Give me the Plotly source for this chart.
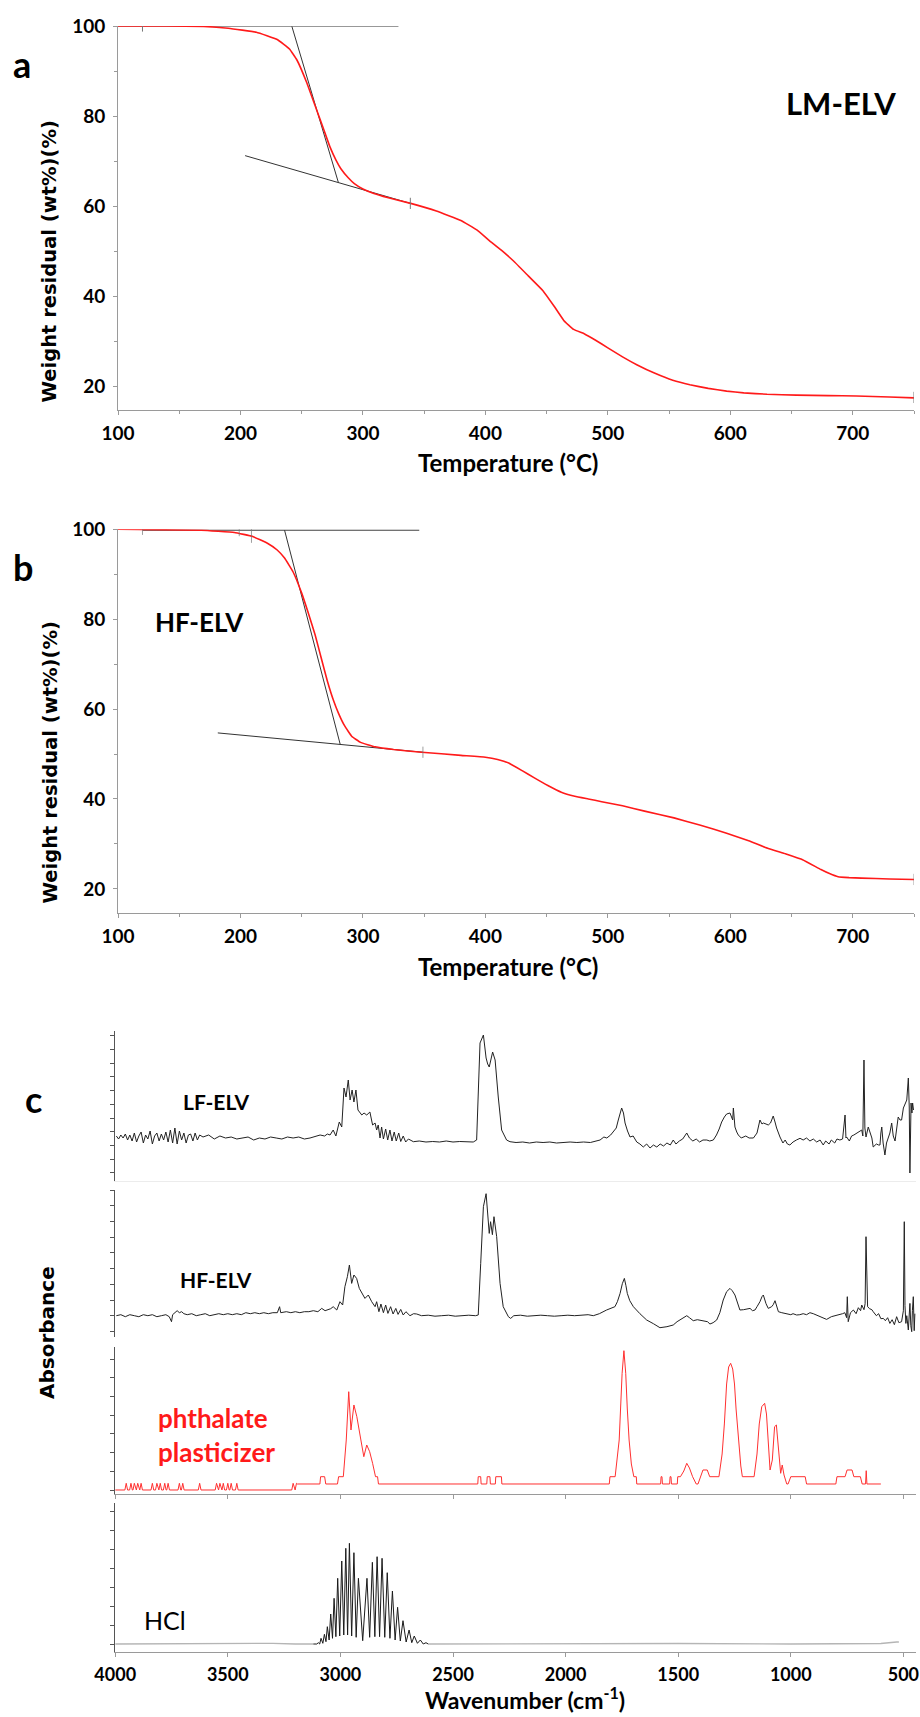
import plotly.graph_objects as go

# ---------------- DATA ----------------
# (a) TGA of LM-ELV
a_temp = [100, 140, 170, 190, 213, 230, 240, 246, 254, 262, 268, 273, 278, 282, 288, 293, 300, 309, 320,
          339, 360, 380, 393, 403, 413, 423, 435, 447, 456, 464, 472, 481, 490, 500, 512, 524, 538, 553,
          567, 582, 597, 611, 630, 654, 680, 703, 730, 750]
a_wt = [100, 100, 99.9, 99.5, 98.6, 97, 94.9, 92.5, 87.5, 81.5, 77, 73.2, 70.2, 68.3, 66.3, 65, 63.8, 62.8,
        61.9, 60.6, 58.9, 56.8, 54.7, 52.4, 50.2, 47.8, 44.5, 41.2, 37.8, 34.6, 32.6, 31.6, 30.2, 28.5,
        26.5, 24.7, 22.9, 21.3, 20.3, 19.5, 18.9, 18.5, 18.2, 18.0, 17.9, 17.8, 17.6, 17.4]
a_tan_flat_T = [100, 329]
a_tan_flat_W = [100, 100]
a_tan_steep_T = [242, 280]
a_tan_steep_W = [99.9, 65.2]
a_tan_low_T = [203.8, 338.7]
a_tan_low_W = [71.2, 60.6]
a_mark_T = [120, 338.7, 750]
a_mark_W = [100, 60.6, 17.5]

# (b) TGA of HF-ELV
b_temp = [100, 168, 195, 210, 222, 230, 236, 243, 250, 255, 261, 266, 271, 276, 280, 285, 291, 298, 310,
          325, 348, 380, 400, 410, 419, 430, 440, 451, 462, 473, 484, 495, 512, 530, 554, 575, 597, 615,
          630, 645, 659, 674, 681, 688, 697, 707, 730, 750]
b_wt = [100, 99.8, 99.3, 98.4, 96.9, 95.4, 93.6, 90.5, 85.8, 81.7, 76.5, 71.3, 66.2, 61.9, 59.1, 56.3, 53.9,
        52.6, 51.6, 51, 50.4, 49.7, 49.3, 48.8, 48, 46.3, 44.7, 43, 41.5, 40.6, 40, 39.4, 38.5, 37.3, 35.8,
        34.2, 32.4, 30.7, 29.1, 27.8, 26.5, 24.3, 23.4, 22.7, 22.5, 22.4, 22.2, 22.1]
b_tan_flat_T = [120, 346]
b_tan_flat_W = [99.8, 99.8]
b_tan_steep_T = [236, 281.5]
b_tan_steep_W = [99.8, 52.1]
b_tan_low_T = [181.5, 349]
b_tan_low_W = [54.7, 50.4]
b_mark_T = [120, 199, 209, 349, 750]
b_mark_W = [100, 99.4, 98.7, 50.4, 22.1]

# (c) FTIR spectra: (wavenumber cm-1, absorbance a.u.)
lf_elv = [
    (3995, 0.02), (3985, -0.01), (3975, 0.03), (3965, 0.0), (3955, 0.04), (3945, -0.02), (3935, 0.03),
    (3925, -0.03), (3915, 0.05), (3905, -0.04), (3895, 0.02), (3885, 0.06), (3875, -0.05), (3865, 0.03),
    (3855, -0.01), (3845, 0.07), (3835, -0.06), (3825, 0.02), (3815, 0.05), (3805, -0.03), (3795, 0.04),
    (3785, -0.02), (3775, 0.06), (3765, -0.04), (3755, 0.08), (3745, -0.05), (3735, 0.10), (3725, -0.06),
    (3715, 0.07), (3705, -0.02), (3695, 0.05), (3685, -0.05), (3675, 0.03), (3665, 0.04), (3655, -0.03),
    (3645, 0.05), (3635, -0.02), (3625, 0.03),
    (3610, 0.01), (3585, 0.03), (3560, -0.01), (3535, 0.02), (3510, 0.0), (3485, 0.01), (3460, -0.01),
    (3435, 0.0), (3410, 0.01), (3385, -0.02), (3360, 0.0), (3335, -0.01), (3310, 0.01), (3285, 0.0),
    (3260, -0.01), (3235, 0.01), (3210, 0.0), (3185, 0.01), (3160, -0.01), (3135, 0.0), (3110, 0.02),
    (3090, 0.03), (3070, 0.02), (3058, 0.04),
    (3046, 0.03), (3032, 0.08), (3020, 0.02), (3005, 0.16), (2994, 0.11), (2984, 0.50), (2975, 0.41),
    (2965, 0.58), (2957, 0.38), (2948, 0.48), (2940, 0.36), (2931, 0.48), (2922, 0.28), (2905, 0.23),
    (2895, 0.25), (2883, 0.23), (2869, 0.26), (2857, 0.13), (2846, 0.15), (2839, 0.08), (2832, 0.13),
    (2824, 0.0), (2817, 0.11), (2809, -0.01), (2799, 0.09), (2790, -0.02), (2780, 0.08), (2771, -0.03),
    (2761, 0.06), (2752, -0.03), (2741, 0.05), (2732, -0.035), (2721, 0.02), (2710, -0.04), (2698, -0.01),
    (2676, -0.037), (2650, -0.03), (2620, -0.04), (2590, -0.035), (2560, -0.04), (2530, -0.03),
    (2500, -0.04), (2470, -0.035), (2440, -0.04), (2410, -0.04),
    (2395, -0.02), (2380, 0.95), (2365, 1.03), (2353, 0.80), (2346, 0.74), (2339, 0.71), (2324, 0.86),
    (2313, 0.78), (2299, 0.41), (2284, 0.08), (2262, -0.02), (2247, -0.037),
    (2220, -0.045), (2190, -0.04), (2160, -0.05), (2130, -0.04), (2100, -0.045), (2070, -0.04),
    (2040, -0.05), (2010, -0.045), (1980, -0.04), (1950, -0.045), (1920, -0.04), (1890, -0.045),
    (1860, -0.03), (1847, -0.02), (1830, 0.01), (1817, 0.0), (1800, 0.03), (1788, 0.06), (1775, 0.10),
    (1766, 0.18), (1758, 0.24), (1751, 0.30), (1743, 0.25), (1736, 0.15), (1725, 0.07), (1714, 0.01),
    (1700, 0.02), (1684, -0.04), (1670, -0.06), (1655, -0.09), (1640, -0.06), (1625, -0.10), (1610, -0.07),
    (1595, -0.09), (1580, -0.06), (1565, -0.08), (1550, -0.05), (1535, -0.07), (1522, -0.02), (1510, -0.06),
    (1495, -0.03), (1480, -0.01), (1462, 0.05), (1450, 0.0), (1435, -0.03), (1420, -0.01), (1405, -0.04),
    (1390, -0.02), (1373, -0.02), (1360, -0.03), (1344, -0.02), (1330, 0.03), (1318, 0.09), (1307, 0.16),
    (1295, 0.21), (1285, 0.24), (1270, 0.25), (1262, 0.20), (1258, 0.18), (1255, 0.30), (1250, 0.12),
    (1248, 0.11), (1240, 0.06), (1233, 0.03), (1220, 0.0), (1200, 0.02), (1185, 0.0), (1166, 0.0),
    (1150, 0.05), (1137, 0.18), (1128, 0.14), (1122, 0.15), (1110, 0.14), (1100, 0.13), (1090, 0.15),
    (1078, 0.22), (1070, 0.16), (1063, 0.10), (1048, 0.01), (1035, -0.05), (1025, -0.02), (1015, -0.06),
    (1004, -0.07), (990, -0.04), (975, -0.02), (959, -0.003), (945, -0.02), (930, 0.0), (915, -0.03),
    (900, -0.01), (885, -0.04), (870, -0.02), (856, -0.07), (845, -0.03), (830, -0.06), (820, -0.02),
    (805, -0.05), (795, -0.01), (782, -0.02), (770, -0.01), (759, 0.23), (755, 0.0), (752, 0.01),
    (740, -0.03), (730, 0.02), (720, 0.03), (707, 0.05), (695, 0.07), (685, 0.08), (680, 0.02), (675, 0.78),
    (671, 0.10), (666, 0.01), (656, 0.11), (650, 0.06), (640, 0.0), (634, -0.09), (620, -0.06), (610, -0.07),
    (604, -0.07), (600, 0.05), (596, 0.11), (590, -0.05), (582, -0.17), (575, -0.05), (567, 0.01),
    (560, 0.05), (552, 0.15), (545, 0.02), (537, -0.03), (530, 0.10), (523, 0.21), (515, 0.18), (508, 0.18),
    (500, 0.30), (493, 0.33), (485, 0.38), (478, 0.60), (474, 0.31), (471, -0.35), (466, 0.35), (462, 0.25),
    (459, 0.35), (455, 0.28)]

hf_elv = [
    (3995, 0.0), (3975, 0.01), (3955, -0.01), (3935, 0.01), (3915, 0.0), (3895, -0.01), (3875, 0.01),
    (3855, 0.0), (3835, 0.01), (3815, -0.01), (3795, 0.0), (3775, 0.01), (3760, -0.01), (3750, -0.06),
    (3745, 0.01), (3735, 0.03), (3725, 0.05), (3715, 0.03), (3705, 0.04), (3695, 0.02), (3680, 0.01),
    (3660, 0.02), (3640, 0.0), (3620, 0.01), (3600, 0.02), (3580, 0.0), (3560, 0.01), (3540, 0.02),
    (3520, 0.01), (3500, 0.02), (3480, 0.01), (3460, 0.02), (3440, 0.01), (3420, 0.03), (3400, 0.02),
    (3380, 0.03), (3360, 0.02), (3340, 0.03), (3320, 0.02), (3300, 0.03), (3280, 0.03), (3270, 0.09),
    (3265, 0.03), (3240, 0.04), (3220, 0.03), (3200, 0.04), (3180, 0.03), (3160, 0.04), (3140, 0.04),
    (3120, 0.05), (3100, 0.04),
    (3083, 0.073), (3068, 0.05), (3054, 0.057), (3043, 0.07), (3032, 0.09), (3016, 0.057), (3002, 0.14),
    (2990, 0.107), (2980, 0.29), (2969, 0.39), (2960, 0.507), (2950, 0.323), (2940, 0.407), (2928, 0.373),
    (2916, 0.273), (2905, 0.223), (2891, 0.173), (2876, 0.207), (2861, 0.14), (2846, 0.09), (2839, 0.14),
    (2829, 0.04), (2820, 0.117), (2809, 0.03), (2799, 0.107), (2789, 0.023), (2777, 0.09), (2766, 0.017),
    (2754, 0.073), (2744, 0.013), (2732, 0.063), (2721, 0.007), (2709, 0.04), (2691, 0.0), (2675, 0.02),
    (2661, 0.017), (2640, 0.0), (2610, 0.005), (2580, -0.005), (2550, 0.0), (2520, 0.005), (2490, -0.005),
    (2460, 0.0), (2430, 0.005), (2400, 0.0),
    (2388, 0.007), (2377, 0.52), (2365, 1.09), (2353, 1.22), (2346, 1.057), (2339, 0.823), (2333, 0.94),
    (2325, 0.81), (2318, 0.99), (2306, 0.79), (2291, 0.323), (2277, 0.09), (2254, -0.01), (2244, -0.027),
    (2230, 0.0), (2200, 0.005), (2170, -0.005), (2140, 0.0), (2110, 0.005), (2080, 0.0), (2050, -0.005),
    (2020, 0.0), (1990, 0.005), (1960, 0.0), (1930, 0.005), (1900, 0.01), (1877, 0.0), (1850, 0.02),
    (1818, 0.057), (1800, 0.07), (1781, 0.09), (1770, 0.14), (1758, 0.223), (1748, 0.32), (1739, 0.373),
    (1732, 0.3), (1726, 0.223), (1715, 0.15), (1699, 0.09), (1670, 0.02), (1640, -0.043), (1610, -0.08),
    (1581, -0.12), (1550, -0.11), (1522, -0.093), (1505, -0.06), (1492, -0.043), (1475, -0.02),
    (1462, 0.0), (1450, -0.02), (1433, -0.05), (1415, -0.04), (1400, -0.045), (1381, -0.05), (1370, -0.06),
    (1359, -0.083), (1345, -0.07), (1329, -0.043), (1315, 0.03), (1300, 0.157), (1285, 0.24), (1270, 0.273),
    (1260, 0.25), (1248, 0.207), (1236, 0.12), (1226, 0.057), (1210, 0.06), (1195, 0.07), (1181, 0.073),
    (1170, 0.05), (1159, 0.057), (1150, 0.09), (1137, 0.14), (1128, 0.19), (1122, 0.207), (1110, 0.12),
    (1100, 0.073), (1085, 0.09), (1078, 0.11), (1070, 0.15), (1062, 0.1), (1055, 0.04), (1040, 0.03),
    (1018, 0.023), (1000, 0.01), (990, 0.02), (974, 0.007), (960, 0.01), (945, 0.02), (930, 0.01),
    (915, 0.03), (900, 0.02), (880, 0.0), (860, -0.02), (841, -0.037), (820, -0.01), (800, 0.0),
    (782, 0.007), (770, 0.02), (760, 0.03), (752, -0.02), (749, 0.19), (745, -0.06), (735, 0.03),
    (722, 0.057), (710, 0.02), (700, 0.08), (690, 0.05), (685, 0.107), (675, 0.06), (670, 0.12), (666, 0.79),
    (662, 0.3), (659, 0.09), (650, 0.07), (640, 0.06), (634, 0.04), (620, 0.0), (610, 0.02), (600, -0.03),
    (589, -0.027), (580, -0.05), (570, -0.02), (560, -0.077), (550, -0.04), (540, -0.09), (530, -0.01),
    (520, -0.07), (508, -0.06), (500, 0.05), (496, 0.94), (493, 0.1), (489, -0.077), (485, 0.0),
    (478, -0.143), (474, 0.05), (471, 0.123), (467, -0.1), (463, -0.16), (460, 0.05), (456, 0.19),
    (452, -0.15), (449, 0.02)]

phthalate = [
    (4000, -0.06), (3957, -0.06), (3951, 0.007), (3945, -0.06), (3936, -0.06), (3930, 0.007),
    (3924, -0.06), (3921, -0.06), (3915, 0.007), (3909, -0.06), (3906, -0.06), (3900, 0.007),
    (3894, -0.06), (3891, -0.06), (3885, 0.007), (3879, -0.06), (3841, -0.06), (3835, 0.007),
    (3829, -0.06), (3821, -0.06), (3815, 0.007), (3809, -0.06), (3806, -0.06), (3800, 0.007),
    (3794, -0.06), (3786, -0.06), (3780, 0.007), (3774, -0.06), (3771, -0.06), (3765, 0.007),
    (3759, -0.06), (3721, -0.06), (3715, 0.007), (3709, -0.06), (3706, -0.06), (3700, 0.007),
    (3694, -0.06), (3631, -0.06), (3625, 0.007), (3619, -0.06), (3556, -0.06), (3550, 0.007),
    (3544, -0.06), (3541, -0.06), (3535, 0.007), (3529, -0.06), (3526, -0.06), (3520, 0.007),
    (3514, -0.06), (3506, -0.06), (3500, 0.007), (3494, -0.06), (3491, -0.06), (3485, 0.007),
    (3479, -0.06), (3466, -0.06), (3460, 0.007), (3454, -0.06), (3216, -0.06), (3210, 0.007),
    (3204, -0.06), (3201, -0.06), (3195, 0.007), (3191, 0.0),
    (3091, 0.0), (3088, 0.073), (3070, 0.073), (3065, 0.0), (3013, 0.0), (3008, 0.073), (2987, 0.073),
    (2974, 0.44), (2963, 0.923), (2953, 0.54), (2940, 0.79), (2927, 0.673), (2909, 0.44), (2896, 0.273),
    (2883, 0.39), (2870, 0.323), (2857, 0.207), (2844, 0.073), (2835, 0.073), (2831, 0.0),
    (2390, 0.0), (2388, 0.073), (2377, 0.073), (2375, 0.0), (2350, 0.0), (2348, 0.073), (2336, 0.073),
    (2334, 0.0), (2312, 0.0), (2310, 0.073), (2285, 0.073), (2283, 0.0),
    (1806, 0.0), (1803, 0.073), (1780, 0.073), (1770, 0.25), (1762, 0.44), (1755, 0.8), (1749, 1.107),
    (1741, 1.333), (1733, 1.107), (1726, 0.75), (1718, 0.44), (1708, 0.2), (1697, 0.073), (1686, 0.073),
    (1684, 0.0), (1578, 0.0), (1576, 0.073), (1572, 0.073), (1570, 0.0), (1538, 0.0), (1536, 0.073),
    (1532, 0.073), (1530, 0.0), (1504, 0.0), (1502, 0.073), (1490, 0.073), (1475, 0.13), (1462, 0.207),
    (1450, 0.16), (1436, 0.073), (1420, 0.0), (1412, 0.0), (1400, 0.073), (1390, 0.14), (1371, 0.14),
    (1360, 0.073), (1319, 0.073), (1305, 0.3), (1295, 0.6), (1285, 1.0), (1276, 1.17), (1267, 1.207),
    (1258, 1.15), (1250, 1.0), (1243, 0.75), (1233, 0.44), (1222, 0.18), (1215, 0.073), (1163, 0.073),
    (1150, 0.3), (1140, 0.6), (1129, 0.773), (1116, 0.807), (1108, 0.7), (1103, 0.507), (1092, 0.14),
    (1082, 0.24), (1072, 0.573), (1064, 0.59), (1058, 0.45), (1053, 0.34), (1045, 0.107), (1038, 0.19),
    (1030, 0.09), (1018, 0.0), (1012, 0.0), (1000, 0.073), (936, 0.073), (930, 0.0), (800, 0.0),
    (795, 0.073), (759, 0.073), (750, 0.14), (728, 0.14), (720, 0.073), (691, 0.073), (683, 0.0),
    (668, 0.0), (665, 0.133), (662, 0.0), (600, 0.0)]

hcl_base_high = [(4000, 0.0), (3700, 0.003), (3500, 0.0), (3300, 0.006), (3200, 0.0), (3120, 0.0)]
hcl_base_low = [(2610, 0.0), (2300, 0.003), (2000, 0.0), (1500, 0.005), (1000, 0.0), (700, 0.004),
                (600, 0.005), (530, 0.02), (520, 0.02)]
hcl_lines = [
    (3120, 0.0), (3105, 0.0), (3098, 0.013), (3092, 0.0), (3086, 0.057), (3078, 0.007), (3071, 0.097),
    (3064, 0.023), (3058, 0.173), (3050, 0.04), (3043, 0.30), (3035, 0.057), (3028, 0.457), (3020, 0.073),
    (3012, 0.657), (3003, 0.08), (2994, 0.83), (2985, 0.09), (2976, 0.957), (2968, 0.09), (2960, 1.007),
    (2950, 0.08), (2940, 0.913), (2930, 0.067), (2920, 0.657), (2901, 0.033), (2882, 0.657), (2870, 0.067),
    (2858, 0.817), (2847, 0.073), (2837, 0.873), (2826, 0.073), (2815, 0.857), (2803, 0.067), (2792, 0.713),
    (2780, 0.057), (2769, 0.53), (2757, 0.04), (2746, 0.367), (2734, 0.03), (2722, 0.233), (2708, 0.02),
    (2695, 0.14), (2683, 0.013), (2672, 0.08), (2658, 0.007), (2645, 0.04), (2632, 0.0), (2620, 0.013),
    (2610, 0.0)]

temp_ticks = [100, 200, 300, 400, 500, 600, 700]
wt_ticks = [20, 40, 60, 80, 100]
wn_ticks = [4000, 3500, 3000, 2500, 2000, 1500, 1000, 500]

# ---------------- LAYOUT HELPERS ----------------
FW, FH = 920, 1717


def fx(px):
    return px / FW


def fy(py):
    return 1 - py / FH


def unzip(pts):
    return [p[0] for p in pts], [p[1] for p in pts]


AX_GRAY = "#9a9a9a"
TICKFONT = dict(family="Lato, sans-serif", size=19, color="black", weight="bold")
RED = "#ff1a1a"

fig = go.Figure()

# panel a
for tx, ty in [(a_tan_flat_T, a_tan_flat_W), (a_tan_steep_T, a_tan_steep_W), (a_tan_low_T, a_tan_low_W)]:
    fig.add_trace(go.Scatter(x=tx, y=ty, mode="lines", line=dict(color="#333", width=1), xaxis="x", yaxis="y"))
fig.add_trace(go.Scatter(x=a_temp, y=a_wt, mode="lines",
                         line=dict(color=RED, width=1.6, shape="spline", smoothing=0.3), xaxis="x", yaxis="y"))
fig.add_trace(go.Scatter(x=a_mark_T, y=a_mark_W, mode="markers",
                         marker=dict(symbol="line-ns", size=8, line=dict(width=1, color="#777")), xaxis="x", yaxis="y"))

# panel b
for tx, ty in [(b_tan_flat_T, b_tan_flat_W), (b_tan_steep_T, b_tan_steep_W), (b_tan_low_T, b_tan_low_W)]:
    fig.add_trace(go.Scatter(x=tx, y=ty, mode="lines", line=dict(color="#333", width=1), xaxis="x2", yaxis="y2"))
fig.add_trace(go.Scatter(x=b_temp, y=b_wt, mode="lines",
                         line=dict(color=RED, width=1.6, shape="spline", smoothing=0.3), xaxis="x2", yaxis="y2"))
fig.add_trace(go.Scatter(x=b_mark_T, y=b_mark_W, mode="markers",
                         marker=dict(symbol="line-ns", size=[8, 6, 11, 8, 8], line=dict(width=1, color="#777")),
                         xaxis="x2", yaxis="y2"))

# panel c
x, y = unzip(lf_elv)
fig.add_trace(go.Scatter(x=x, y=y, mode="lines", line=dict(color="#222", width=1), xaxis="x3", yaxis="y3"))
x, y = unzip(hf_elv)
fig.add_trace(go.Scatter(x=x, y=y, mode="lines", line=dict(color="#222", width=1), xaxis="x4", yaxis="y4"))
x, y = unzip(phthalate)
fig.add_trace(go.Scatter(x=x, y=y, mode="lines", line=dict(color="#ff3030", width=1), xaxis="x5", yaxis="y5"))
x, y = unzip(hcl_base_high)
fig.add_trace(go.Scatter(x=x, y=y, mode="lines", line=dict(color="#b5b5b5", width=1.3), xaxis="x6", yaxis="y6"))
x, y = unzip(hcl_base_low)
fig.add_trace(go.Scatter(x=x, y=y, mode="lines", line=dict(color="#b5b5b5", width=1.3), xaxis="x6", yaxis="y6"))
x, y = unzip(hcl_lines)
fig.add_trace(go.Scatter(x=x, y=y, mode="lines", line=dict(color="#1a1a1a", width=1), xaxis="x6", yaxis="y6"))


def tga_x(anchor):
    return dict(domain=[fx(118), fx(914)], range=[100, 750], anchor=anchor, showline=True, automargin=False,
                linecolor=AX_GRAY, linewidth=1, ticks="outside", ticklen=4, tickcolor=AX_GRAY,
                tickvals=temp_ticks, minor=dict(ticks="outside", ticklen=3, tickcolor=AX_GRAY, dtick=50, tick0=100),
                showgrid=False, zeroline=False, tickfont=TICKFONT, ticklabelstandoff=2)


def tga_y(top_px, bot_px, anchor):
    return dict(domain=[fy(bot_px), fy(top_px)], range=[14.7, 100], anchor=anchor, showline=True,
                automargin=False, linecolor=AX_GRAY, linewidth=1, ticks="outside", ticklen=4,
                tickcolor=AX_GRAY, tickvals=wt_ticks,
                minor=dict(ticks="outside", ticklen=3, tickcolor=AX_GRAY, dtick=10, tick0=20),
                showgrid=False, zeroline=False, tickfont=TICKFONT, ticklabelstandoff=4)


def ftir_x(anchor, line=True, lcolor=AX_GRAY, ticks=True, labels=False):
    return dict(domain=[fx(115.2), fx(916)], range=[4000, 444], anchor=anchor, showline=line, automargin=False,
                linecolor=lcolor, linewidth=1, ticks="outside" if ticks else "", ticklen=4,
                tickcolor=AX_GRAY, tickvals=wn_ticks, showticklabels=labels, showgrid=False,
                zeroline=False, tickfont=dict(family="Lato, sans-serif", size=18, color="black", weight="bold"),
                ticklabelstandoff=3)


def ftir_y(top_px, bot_px, base_px, anchor, tick0, dtick):
    return dict(domain=[fy(bot_px), fy(top_px)], range=[(base_px - bot_px) / 100, (base_px - top_px) / 100],
                anchor=anchor, showline=True, automargin=False, linecolor="#555", linewidth=1,
                ticks="outside", ticklen=4, tickcolor="#555", tick0=tick0, dtick=dtick,
                showticklabels=False, showgrid=False, zeroline=False)


fig.update_layout(
    width=FW, height=FH, margin=dict(l=0, r=0, t=0, b=0, pad=0, autoexpand=False),
    paper_bgcolor="white", plot_bgcolor="white", showlegend=False,
    xaxis=tga_x("y"), yaxis=tga_y(26, 410, "x"),
    xaxis2=tga_x("y2"), yaxis2=tga_y(529.3, 912.7, "x2"),
    xaxis3=ftir_x("y3", line=True, lcolor="#ececec", ticks=False),
    yaxis3=ftir_y(1031, 1181, 1138, "x3", 0.063, 0.137),
    xaxis4=ftir_x("y4", line=False, ticks=False),
    yaxis4=ftir_y(1190, 1337, 1315.7, "x4", 0.0, 0.157),
    xaxis5=ftir_x("y5", line=True, ticks=True),
    yaxis5=ftir_y(1346.7, 1494, 1484, "x5", -0.06, 0.187),
    xaxis6=ftir_x("y6", line=True, ticks=True, labels=True),
    yaxis6=ftir_y(1503, 1651.7, 1644, "x6", 0.0, 0.19),
)

ann = []


def add_text(text, x, y, size, family="Lato, sans-serif", color="black", weight="bold", angle=0,
             xanchor="center", yanchor="middle", align="center"):
    ann.append(dict(text=text, x=fx(x), y=fy(y), xref="paper", yref="paper", showarrow=False,
                    font=dict(family=family, size=size, color=color, weight=weight), textangle=angle,
                    xanchor=xanchor, yanchor=yanchor, align=align))


add_text("a", 21.5, 64, 36)
add_text("b", 22.5, 567, 36)
add_text("c", 33.5, 1099, 36)
add_text("LM-ELV", 841, 103, 31)
add_text("HF-ELV", 199, 622, 26)
add_text("Weight residual (wt%)(%)", 49.5, 262, 19.5, family="DejaVu Sans, sans-serif", angle=-90)
add_text("Weight residual (wt%)(%)", 49.5, 763, 19.5, family="DejaVu Sans, sans-serif", angle=-90)
add_text("Temperature (°C)", 508, 463, 24)
add_text("Temperature (°C)", 508, 966, 24)
add_text("LF-ELV", 216, 1101.5, 21)
add_text("HF-ELV", 215.5, 1279, 21)
add_text("phthalate<br>plasticizer", 155.5, 1434.6, 26, color=RED, xanchor="left", align="left")
add_text("HCl", 164.5, 1620, 25, weight="normal")
add_text("Absorbance", 47, 1333, 20, family="DejaVu Sans, sans-serif", angle=-90)
add_text("Wavenumber (cm<sup>-1</sup>)", 524.5, 1716, 23, yanchor="bottom")

fig.update_layout(annotations=ann)

fig.write_html("out.html", config={"displayModeBar": False},
               post_script="document.body.style.margin='0';")
